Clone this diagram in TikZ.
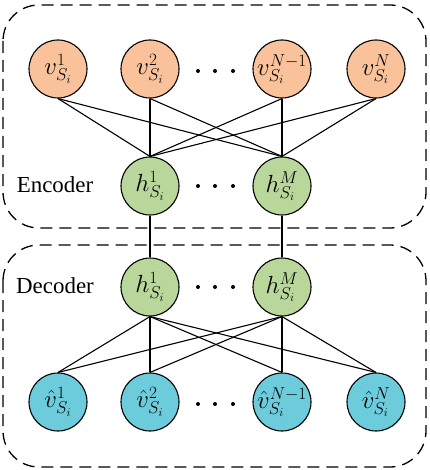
\documentclass[tikz,border=0pt]{standalone}
\usepackage{fontspec}
\setmainfont{Liberation Serif}
\definecolor{vorange}{HTML}{F9C29B}
\definecolor{hgreen}{HTML}{B9D79B}
\definecolor{vcyan}{HTML}{6DCCDC}
\begin{document}
\begin{tikzpicture}[x=1bp,y=-1bp,
  unit/.style={circle,draw=black,line width=1.1bp,minimum size=58bp,inner sep=0pt,font=\fontsize{26}{30}\selectfont},
  vin/.style={unit,fill=vorange},
  hid/.style={unit,fill=hgreen},
  vout/.style={unit,fill=vcyan},
  grp/.style={draw=black,line width=1.3bp,dash pattern=on 12bp off 7bp,rounded corners=36bp},
  dotnode/.style={circle,fill=black,inner sep=0pt,minimum size=4bp},
  lab/.style={font=\fontsize{23}{27}\selectfont},
  conn/.style={line width=1.1bp}]
\useasboundingbox (0,0) rectangle (429,470);
\draw[grp] (3,5) rectangle (426,228);
\draw[grp] (3,245) rectangle (426,467);
% top layer
\node[vin] (v1) at (58,69) {$v_{S_i}^{1}$};
\node[vin] (v2) at (150,69) {$v_{S_i}^{2}$};
\node[vin] (v3) at (282,69) {$v_{S_i}^{N-1}$};
\node[vin] (v4) at (376,69) {$v_{S_i}^{N}$};
% encoder hidden
\node[hid] (e1) at (150,186) {$h_{S_i}^{1}$};
\node[hid] (e2) at (282,186) {$h_{S_i}^{M}$};
% decoder hidden
\node[hid] (d1) at (150,287) {$h_{S_i}^{1}$};
\node[hid] (d2) at (282,287) {$h_{S_i}^{M}$};
% output
\node[vout] (o1) at (58,402) {$\hat{v}_{S_i}^{1}$};
\node[vout] (o2) at (150,402) {$\hat{v}_{S_i}^{2}$};
\node[vout] (o3) at (282,402) {$\hat{v}_{S_i}^{N-1}$};
\node[vout] (o4) at (376,402) {$\hat{v}_{S_i}^{N}$};
% labels
\node[lab] (enc) at (55,185) {Encoder};
\node[lab] (dec) at (55,286) {Decoder};
% dots
\foreach \r/\y in {a/71,b/186,c/287,f/404}{
  \node[dotnode] (dot\r1) at (198,\y) {};
  \node[dotnode] (dot\r2) at (215,\y) {};
  \node[dotnode] (dot\r3) at (233,\y) {};
}
% connections
\foreach \i in {1,2,3,4}{
  \foreach \j in {1,2}{
    \draw[conn] (v\i.south) -- (e\j.north);
    \draw[conn] (d\j.south) -- (o\i.north);
  }
}
\draw[conn] (e1) -- (d1);
\draw[conn] (e2) -- (d2);
\end{tikzpicture}
\end{document}
